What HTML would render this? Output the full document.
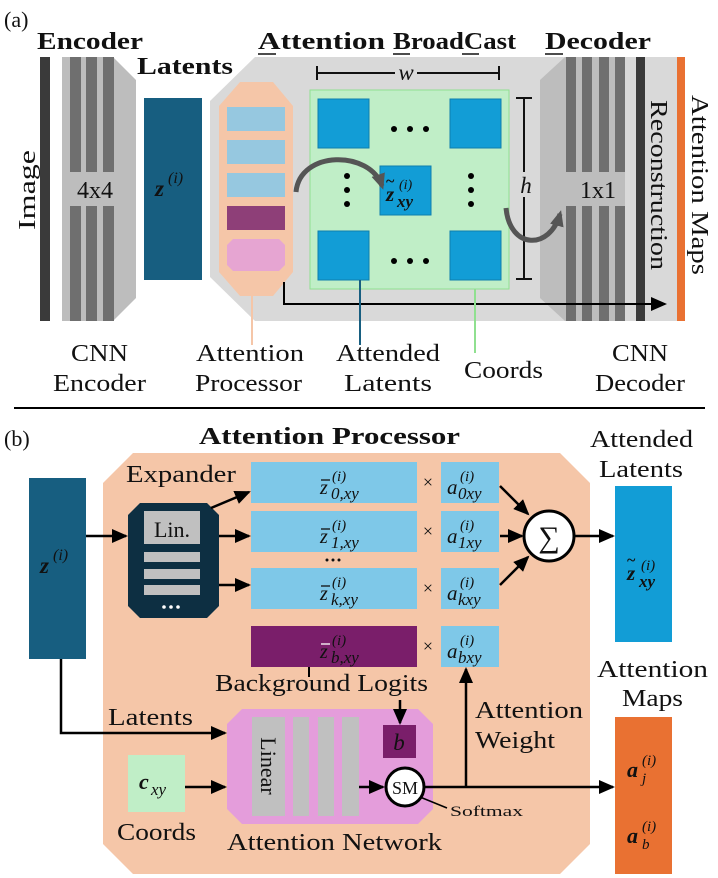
<!DOCTYPE html>
<html><head><meta charset="utf-8"><style>
html,body{margin:0;padding:0;background:#fff}
svg{display:block}
text{font-family:"Liberation Serif",serif;fill:#111}
.l{font-size:24px}
.b{font-weight:bold}
</style></head><body>
<svg width="718" height="878" viewBox="0 0 718 878" xmlns="http://www.w3.org/2000/svg">
<defs>
<marker id="ahb" markerWidth="16" markerHeight="14" refX="14" refY="7" orient="auto" markerUnits="userSpaceOnUse"><path d="M0,0 L16,7 L0,14 z" fill="#000"/></marker>
<marker id="ahg" markerWidth="16" markerHeight="14" refX="12" refY="7" orient="auto" markerUnits="userSpaceOnUse"><path d="M0,0 L16,7 L0,14 z" fill="#555"/></marker>
</defs>

<!-- (a) -->
<text x="4" y="27" font-size="22">(a)</text>
<text x="37" y="49" class="l b" textLength="106" lengthAdjust="spacingAndGlyphs">Encoder</text>
<text x="137" y="74" class="l b" textLength="96" lengthAdjust="spacingAndGlyphs">Latents</text>
<text x="258" y="49" class="l b" textLength="127" lengthAdjust="spacingAndGlyphs">Attention</text>
<text x="393" y="49" class="l b" textLength="123" lengthAdjust="spacingAndGlyphs">BroadCast</text>
<text x="545" y="49" class="l b" textLength="106" lengthAdjust="spacingAndGlyphs">Decoder</text>
<g stroke="#111" stroke-width="1.6">
<line x1="258" y1="54" x2="276" y2="54"/><line x1="393" y1="54" x2="410" y2="54"/><line x1="462" y1="54" x2="479" y2="54"/><line x1="545" y1="54" x2="563" y2="54"/>
</g>

<rect x="40" y="57" width="10" height="264" fill="#3a3a3a"/>
<polygon points="62,57 113,57 136,80 136,298 113,321 62,321" fill="#bdbdbd"/>
<g fill="#6f6f6f">
<rect x="70" y="57" width="11" height="115"/><rect x="86" y="57" width="11" height="115"/><rect x="103" y="57" width="11" height="115"/>
<rect x="70" y="206" width="11" height="115"/><rect x="86" y="206" width="11" height="115"/><rect x="103" y="206" width="11" height="115"/>
</g>
<text x="95" y="198" font-size="24" text-anchor="middle" fill="#333">4x4</text>
<text transform="translate(35,190) rotate(-90)" class="l" text-anchor="middle" textLength="80" lengthAdjust="spacingAndGlyphs">Image</text>

<rect x="144" y="98" width="58" height="182" fill="#175e80"/>
<text x="155" y="196" font-size="23" fill="#fff" class="b" font-style="italic">z</text><text x="168" y="183" font-size="16" fill="#fff" font-style="italic">(i)</text>

<polygon points="255,57 677,57 677,321 255,321 210,277 210,101" fill="#d9d9d9"/>
<polygon points="240,82 273,82 293,106 293,272 273,296 240,296 219,272 219,106" fill="#f5c6a8"/>
<rect x="227" y="107" width="58" height="24" fill="#96c8e0"/>
<rect x="227" y="140" width="58" height="24" fill="#96c8e0"/>
<rect x="227" y="173" width="58" height="24" fill="#96c8e0"/>
<rect x="227" y="206" width="58" height="24" fill="#8e3f78"/>
<polygon points="233,239 279,239 285,245 285,265 279,271 233,271 227,265 227,245" fill="#e6a5d2"/>
<line x1="252" y1="296" x2="252" y2="345" stroke="#f5c6a8" stroke-width="2"/>

<rect x="310" y="90" width="199" height="199" fill="#c0eec7" stroke="#90e090" stroke-width="1"/>
<g fill="#129dd6" stroke="#0e7fae" stroke-width="1">
<rect x="318" y="99" width="51" height="49"/><rect x="450" y="99" width="51" height="49"/>
<rect x="318" y="231" width="51" height="49"/><rect x="450" y="231" width="51" height="49"/>
<rect x="380" y="166" width="51" height="49"/>
</g>
<text x="386" y="201" font-size="21" class="b" font-style="italic" fill="#0d2f42">z</text>
<text x="386" y="186" font-size="16" class="b" fill="#0d2f42">~</text>
<text x="399" y="189" font-size="14" font-style="italic" fill="#0d2f42">(i)</text>
<text x="397" y="207" font-size="17" font-style="italic" fill="#0d2f42" class="b">xy</text>
<g fill="#000">
<circle cx="394" cy="129" r="3"/><circle cx="410" cy="129" r="3"/><circle cx="426" cy="129" r="3"/>
<circle cx="394" cy="261" r="3"/><circle cx="410" cy="261" r="3"/><circle cx="426" cy="261" r="3"/>
<circle cx="347" cy="176" r="3"/><circle cx="347" cy="190" r="3"/><circle cx="347" cy="204" r="3"/>
<circle cx="471" cy="176" r="3"/><circle cx="471" cy="190" r="3"/><circle cx="471" cy="204" r="3"/>
</g>
<g stroke="#111" stroke-width="2">
<line x1="317" y1="73" x2="395" y2="73"/><line x1="417" y1="73" x2="499" y2="73"/>
<line x1="317" y1="66" x2="317" y2="80"/><line x1="499" y1="66" x2="499" y2="80"/>
<line x1="524" y1="98" x2="524" y2="172"/><line x1="524" y1="197" x2="524" y2="279"/>
<line x1="516" y1="98" x2="532" y2="98"/><line x1="516" y1="279" x2="532" y2="279"/>
</g>
<text x="406" y="80" font-size="23" font-style="italic" text-anchor="middle">w</text>
<text x="526" y="193" font-size="23" font-style="italic" text-anchor="middle">h</text>

<path d="M296,192 C300,150 370,150 382,186" fill="none" stroke="#555" stroke-width="5" marker-end="url(#ahg)"/>

<polygon points="565,57 625,57 625,321 565,321 540,298 540,80" fill="#bdbdbd"/>
<g fill="#6f6f6f">
<rect x="566" y="57" width="10" height="115"/><rect x="582" y="57" width="10" height="115"/><rect x="599" y="57" width="10" height="115"/><rect x="615" y="57" width="10" height="115"/>
<rect x="566" y="206" width="10" height="115"/><rect x="582" y="206" width="10" height="115"/><rect x="599" y="206" width="10" height="115"/><rect x="615" y="206" width="10" height="115"/>
</g>
<text x="598" y="198" font-size="24" text-anchor="middle" fill="#333">1x1</text>
<path d="M506,208 C510,250 550,250 560,214" fill="none" stroke="#555" stroke-width="5" marker-end="url(#ahg)"/>
<rect x="636" y="57" width="9" height="264" fill="#3a3a3a"/>
<rect x="677" y="57" width="8" height="264" fill="#e97132"/>
<text transform="translate(651,185) rotate(90)" class="l" text-anchor="middle" textLength="170" lengthAdjust="spacingAndGlyphs">Reconstruction</text>
<text transform="translate(692,185) rotate(90)" class="l" text-anchor="middle" textLength="180" lengthAdjust="spacingAndGlyphs">Attention Maps</text>

<polyline points="284,282 284,304 665,304" fill="none" stroke="#000" stroke-width="2" marker-end="url(#ahb)"/>
<line x1="360" y1="280" x2="360" y2="345" stroke="#175e80" stroke-width="2"/>
<line x1="475" y1="289" x2="475" y2="353" stroke="#90e090" stroke-width="2"/>

<g class="l">
<text x="71" y="361" textLength="57" lengthAdjust="spacingAndGlyphs">CNN</text><text x="53" y="391" textLength="93" lengthAdjust="spacingAndGlyphs">Encoder</text>
<text x="196" y="361" textLength="108" lengthAdjust="spacingAndGlyphs">Attention</text><text x="195" y="391" textLength="107" lengthAdjust="spacingAndGlyphs">Processor</text>
<text x="336" y="361" textLength="104" lengthAdjust="spacingAndGlyphs">Attended</text><text x="344" y="391" textLength="88" lengthAdjust="spacingAndGlyphs">Latents</text>
<text x="464" y="378" textLength="79" lengthAdjust="spacingAndGlyphs">Coords</text>
<text x="612" y="361" textLength="56" lengthAdjust="spacingAndGlyphs">CNN</text><text x="595" y="391" textLength="90" lengthAdjust="spacingAndGlyphs">Decoder</text>
</g>
<line x1="14" y1="408" x2="705" y2="408" stroke="#000" stroke-width="2"/>

<!-- (b) -->
<text x="4" y="446" font-size="22">(b)</text>
<text x="199" y="444" class="l b" textLength="261" lengthAdjust="spacingAndGlyphs">Attention Processor</text>
<polygon points="133,453 560,453 590,483 590,844 560,874 133,874 103,844 103,483" fill="#f5c6a8"/>

<rect x="29" y="478" width="57" height="181" fill="#175e80"/>
<text x="40" y="573" font-size="23" fill="#fff" class="b" font-style="italic">z</text><text x="53" y="560" font-size="16" fill="#fff" font-style="italic">(i)</text>

<text x="126" y="482" class="l" textLength="110" lengthAdjust="spacingAndGlyphs">Expander</text>
<polygon points="140,503 207,503 219,515 219,606 207,618 140,618 128,606 128,515" fill="#0d2f42"/>
<rect x="144" y="511" width="56" height="33" fill="#c0c0c0"/>
<text x="172" y="537" font-size="22" text-anchor="middle">Lin.</text>
<rect x="144" y="552" width="56" height="10" fill="#c0c0c0"/>
<rect x="144" y="569" width="56" height="10" fill="#c0c0c0"/>
<rect x="144" y="585" width="56" height="10" fill="#c0c0c0"/>
<g fill="#fff"><circle cx="164" cy="607" r="1.8"/><circle cx="171" cy="607" r="1.8"/><circle cx="178" cy="607" r="1.8"/></g>

<g stroke="#000" stroke-width="2.5" fill="none">
<line x1="86" y1="536" x2="126" y2="536" marker-end="url(#ahb)"/>
<line x1="211" y1="508" x2="249" y2="492" marker-end="url(#ahb)"/>
<line x1="219" y1="536" x2="249" y2="536" marker-end="url(#ahb)"/>
<line x1="219" y1="585" x2="249" y2="585" marker-end="url(#ahb)"/>
</g>

<g fill="#7ec8e8">
<rect x="251" y="462" width="166" height="41"/><rect x="251" y="511" width="166" height="41"/><rect x="251" y="568" width="166" height="41"/>
<rect x="441" y="462" width="58" height="41"/><rect x="441" y="511" width="58" height="41"/><rect x="441" y="568" width="58" height="41"/><rect x="441" y="626" width="58" height="41"/>
</g>
<rect x="251" y="626" width="166" height="41" fill="#7a1e6a"/>
<g font-style="italic">
<text x="320" y="494" font-size="20">z</text><text x="332" y="481" font-size="15">(i)</text><text x="331" y="499" font-size="17">0,xy</text>
<text x="320" y="543" font-size="20">z</text><text x="332" y="530" font-size="15">(i)</text><text x="331" y="548" font-size="17">1,xy</text>
<text x="320" y="600" font-size="20">z</text><text x="332" y="587" font-size="15">(i)</text><text x="331" y="605" font-size="17">k,xy</text>
<text x="320" y="658" font-size="20" fill="#fff">z</text><text x="332" y="645" font-size="15" fill="#fff">(i)</text><text x="331" y="663" font-size="17" fill="#fff">b,xy</text>
<text x="447" y="494" font-size="21">a</text><text x="460" y="481" font-size="15">(i)</text><text x="458" y="499" font-size="17">0xy</text>
<text x="447" y="543" font-size="21">a</text><text x="460" y="530" font-size="15">(i)</text><text x="458" y="548" font-size="17">1xy</text>
<text x="447" y="600" font-size="21">a</text><text x="460" y="587" font-size="15">(i)</text><text x="458" y="605" font-size="17">kxy</text>
<text x="447" y="658" font-size="21">a</text><text x="460" y="645" font-size="15">(i)</text><text x="458" y="663" font-size="17">bxy</text>
</g>
<g stroke-width="1.3">
<line x1="321" y1="480" x2="330" y2="480" stroke="#111"/><line x1="321" y1="529" x2="330" y2="529" stroke="#111"/><line x1="321" y1="586" x2="330" y2="586" stroke="#111"/><line x1="321" y1="644" x2="330" y2="644" stroke="#fff"/>
</g>
<g fill="#111"><circle cx="327" cy="560" r="1.5"/><circle cx="333" cy="560" r="1.5"/><circle cx="339" cy="560" r="1.5"/></g>
<g font-size="18" text-anchor="middle">
<text x="428" y="488">×</text><text x="428" y="537">×</text><text x="428" y="594">×</text><text x="428" y="652">×</text>
</g>

<circle cx="549" cy="536" r="25" fill="#fff" stroke="#000" stroke-width="3"/>
<text x="549" y="547" font-size="30" text-anchor="middle">∑</text>
<g stroke="#000" stroke-width="2.5" fill="none">
<line x1="500" y1="486" x2="528" y2="514" marker-end="url(#ahb)"/>
<line x1="500" y1="536" x2="522" y2="536" marker-end="url(#ahb)"/>
<line x1="500" y1="585" x2="528" y2="557" marker-end="url(#ahb)"/>
<line x1="575" y1="536" x2="613" y2="536" marker-end="url(#ahb)"/>
</g>

<text x="590" y="447" class="l" textLength="103" lengthAdjust="spacingAndGlyphs">Attended</text>
<text x="599" y="477" class="l" textLength="84" lengthAdjust="spacingAndGlyphs">Latents</text>
<rect x="615" y="486" width="57" height="156" fill="#129dd6"/>
<text x="627" y="580" font-size="21" class="b" font-style="italic" fill="#0d2f42">z</text>
<text x="627" y="565" font-size="16" class="b" fill="#0d2f42">~</text>
<text x="641" y="570" font-size="15" font-style="italic" fill="#0d2f42">(i)</text>
<text x="639" y="587" font-size="17" font-style="italic" fill="#0d2f42" class="b">xy</text>

<text x="597" y="677" class="l" textLength="111" lengthAdjust="spacingAndGlyphs">Attention</text>
<text x="622" y="706" class="l" textLength="61" lengthAdjust="spacingAndGlyphs">Maps</text>
<rect x="615" y="717" width="57" height="157" fill="#e97132"/>
<text x="627" y="777" font-size="22" class="b" font-style="italic">a</text><text x="642" y="765" font-size="15" font-style="italic">(i)</text><text x="642" y="783" font-size="15" font-style="italic">j</text>
<text x="627" y="843" font-size="22" class="b" font-style="italic">a</text><text x="642" y="831" font-size="15" font-style="italic">(i)</text><text x="642" y="849" font-size="15" font-style="italic">b</text>

<line x1="309" y1="667" x2="309" y2="677" stroke="#000" stroke-width="2"/>
<text x="215" y="691" class="l" textLength="213" lengthAdjust="spacingAndGlyphs">Background Logits</text>

<polygon points="242,709 418,709 433,724 433,809 418,824 242,824 227,809 227,724" fill="#e49ddb"/>
<g fill="#c0c0c0">
<rect x="252" y="717" width="33" height="99"/><rect x="293" y="717" width="16" height="99"/><rect x="318" y="717" width="16" height="99"/><rect x="342" y="717" width="17" height="99"/>
</g>
<text transform="translate(261,766) rotate(90)" font-size="22" text-anchor="middle">Linear</text>
<rect x="383" y="725" width="33" height="33" fill="#7a1e6a"/>
<text x="399" y="750" font-size="23" font-style="italic" fill="#fff" text-anchor="middle">b</text>
<line x1="400" y1="700" x2="400" y2="723" stroke="#000" stroke-width="2.5" marker-end="url(#ahb)"/>

<line x1="359" y1="787" x2="383" y2="787" stroke="#000" stroke-width="2.5" marker-end="url(#ahb)"/>
<line x1="425" y1="787" x2="613" y2="787" stroke="#000" stroke-width="2.5" marker-end="url(#ahb)"/>
<line x1="466" y1="787" x2="466" y2="669" stroke="#000" stroke-width="2.5" marker-end="url(#ahb)"/>
<line x1="420" y1="797" x2="447" y2="808" stroke="#000" stroke-width="1.5"/>
<circle cx="405" cy="787" r="19" fill="#fff" stroke="#000" stroke-width="3"/>
<text x="405" y="794" font-size="18" text-anchor="middle">SM</text>
<text x="450" y="816" font-size="15" textLength="73" lengthAdjust="spacingAndGlyphs">Softmax</text>
<text x="475" y="718" class="l" textLength="108" lengthAdjust="spacingAndGlyphs">Attention</text>
<text x="475" y="748" class="l" textLength="80" lengthAdjust="spacingAndGlyphs">Weight</text>

<polyline points="61,659 61,733 225,733" fill="none" stroke="#000" stroke-width="2.5" marker-end="url(#ahb)"/>
<text x="108" y="725" class="l" textLength="85" lengthAdjust="spacingAndGlyphs">Latents</text>
<rect x="128" y="755" width="57" height="57" fill="#c0eec7"/>
<text x="139" y="789" font-size="22" class="b" font-style="italic">c</text><text x="151" y="795" font-size="17" font-style="italic">xy</text>
<line x1="185" y1="787" x2="225" y2="787" stroke="#000" stroke-width="2.5" marker-end="url(#ahb)"/>
<text x="117" y="840" class="l" textLength="79" lengthAdjust="spacingAndGlyphs">Coords</text>
<text x="227" y="850" class="l" textLength="215" lengthAdjust="spacingAndGlyphs">Attention Network</text>
</svg>
</body></html>
